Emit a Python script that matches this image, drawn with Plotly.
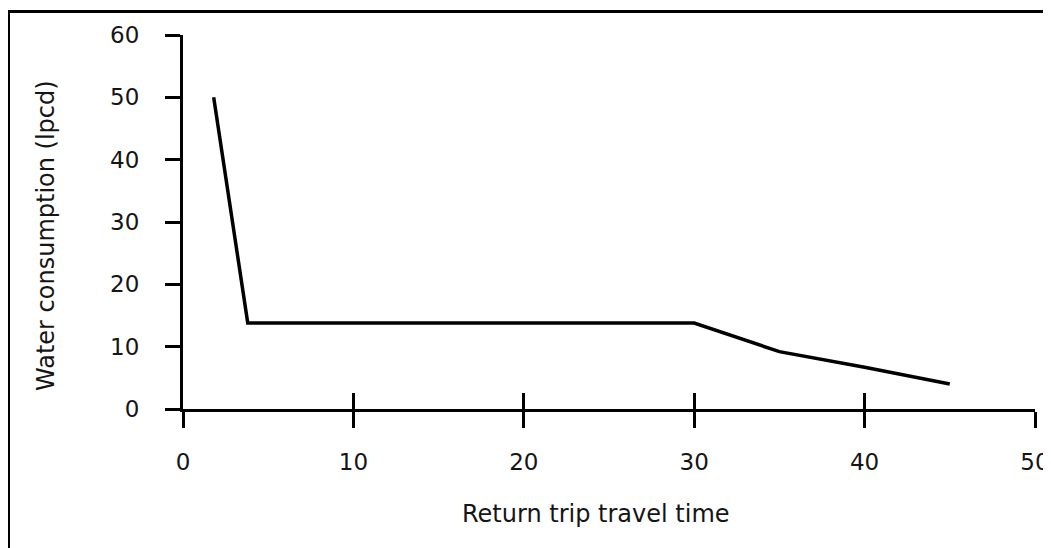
import plotly.graph_objects as go

# Data
travel_time = [1.8, 3.8, 30, 35, 40, 45]
consumption = [50, 13.8, 13.8, 9.2, 6.7, 4.0]

x_ticks = [0, 10, 20, 30, 40, 50]
y_ticks = [0, 10, 20, 30, 40, 50, 60]

x_title = "Return trip travel time"
y_title = "Water consumption (lpcd)"

OFF = 8  # page body margin
W, H = 1051 - OFF, 548 - OFF
ML, MR, MT, MB = 183 - OFF, 16, 35 - OFF, 139
PW, PH = W - ML - MR, H - MT - MB

FONT = "DejaVu Sans"
TXT = "#151515"


def px_to_paper_x(px):  # px in page coordinates
    return (px - OFF - ML) / PW


def px_to_paper_y(py):
    return (H - MB - (py - OFF)) / PH


fig = go.Figure()
fig.add_trace(go.Scatter(
    x=travel_time, y=consumption, mode="lines",
    line=dict(color="black", width=3.5),
    showlegend=False, hoverinfo="skip",
))
# empty trace so the overlaying axis (inner half of crossing ticks) is drawn
fig.add_trace(go.Scatter(x=[None], y=[None], xaxis="x2", mode="lines",
                         showlegend=False, hoverinfo="skip"))

fig.update_layout(
    width=W, height=H,
    margin=dict(l=ML, r=MR, t=MT, b=MB, pad=0, autoexpand=False),
    paper_bgcolor="white", plot_bgcolor="white",
    font=dict(family=FONT, size=23, color=TXT),
    xaxis=dict(
        range=[0, 50], tickvals=x_ticks, ticktext=[str(v) for v in x_ticks],
        showline=True, linecolor="black", linewidth=3,
        ticks="outside", ticklen=16, tickwidth=3, tickcolor="black",
        showgrid=False, zeroline=False, ticklabelstandoff=14, automargin=False,
        tickfont=dict(family=FONT, size=23, color=TXT),
    ),
    xaxis2=dict(
        range=[0, 50], overlaying="x", anchor="y", side="bottom",
        tickvals=x_ticks, showticklabels=False, automargin=False,
        showline=False, ticks="inside", ticklen=16, tickwidth=3, tickcolor="black",
        showgrid=False, zeroline=False,
    ),
    yaxis=dict(
        range=[0, 60], tickvals=y_ticks, ticktext=[str(v) for v in y_ticks],
        showline=True, linecolor="black", linewidth=3,
        ticks="outside", ticklen=15, tickwidth=3, tickcolor="black",
        showgrid=False, zeroline=False, ticklabelstandoff=21, automargin=False,
        tickfont=dict(family=FONT, size=23, color=TXT),
    ),
    annotations=[
        dict(text=x_title, xref="paper", yref="paper",
             x=px_to_paper_x(596), y=px_to_paper_y(514),
             xanchor="center", yanchor="middle", showarrow=False,
             font=dict(family=FONT, size=24, color=TXT)),
        dict(text=y_title, xref="paper", yref="paper", textangle=-90,
             x=px_to_paper_x(46), y=px_to_paper_y(236),
             xanchor="center", yanchor="middle", showarrow=False,
             font=dict(family=FONT, size=24, color=TXT)),
    ],
    shapes=[
        dict(type="rect", xref="paper", yref="paper",
             x0=px_to_paper_x(8.5), x1=px_to_paper_x(1051 + 30),
             y0=px_to_paper_y(548 + 30), y1=px_to_paper_y(11.5),
             line=dict(color="black", width=3), fillcolor="rgba(0,0,0,0)",
             layer="above"),
    ],
)

fig.write_html("out.html")
